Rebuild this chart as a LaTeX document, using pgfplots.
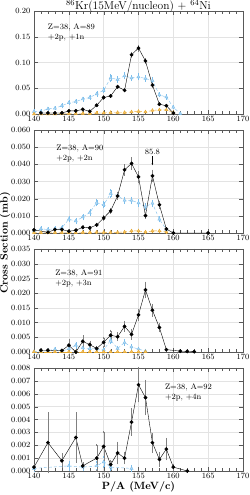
\documentclass[border=0pt]{standalone}
\usepackage{pgfplots}
\pgfplotsset{compat=1.18}
\usetikzlibrary{arrows.meta}
\definecolor{blueC}{RGB}{125,190,235}
\definecolor{orangeC}{RGB}{232,168,45}
\tikzset{lab/.style={font=\fontsize{8}{9.5}\selectfont, align=left, anchor=north west}}
\pgfplotsset{
  panel/.style={
    width=209pt, height=103pt, scale only axis,
    xmin=140, xmax=170, xtick={140,145,...,170}, minor x tick num=4,
    grid=major, grid style={gray!22, thin},
    axis line style={gray!70!black},
    tick style={gray!70!black},
    tick label style={font=\fontsize{8}{9}\selectfont},
    scaled y ticks=false,
    xticklabel style={yshift=1pt},
    yticklabel style={/pgf/number format/.cd, fixed, fixed zerofill, precision=3},
    clip=false,
  },
  blk/.style={black, thin, mark=*, mark size=1.7pt,
    error bars/.cd, y dir=both, y explicit, error bar style={gray, very thin}, error mark options={gray, mark size=1pt}},
  blu/.style={blueC, thin, densely dashed, mark=triangle*, mark size=1.8pt, mark options={solid, fill=blueC!60},
    error bars/.cd, y dir=both, y explicit, error bar style={blueC, very thin, solid}, error mark options={blueC, mark size=1pt}},
  org/.style={orangeC, thin, densely dashed, mark=triangle*, mark size=1.8pt, mark options={solid, fill=orangeC!70},
    error bars/.cd, y dir=both, y explicit, error bar style={orangeC, very thin, solid}, error mark options={orangeC, mark size=1pt}},
}
\begin{document}
\begin{tikzpicture}
% Panel 1
\begin{axis}[panel, name=a1, at={(0,0)}, anchor=north west,
  ymin=0, ymax=0.20, ytick={0,0.05,...,0.20},
  yticklabel style={/pgf/number format/.cd, fixed, fixed zerofill, precision=2}]
\addplot[blu] coordinates {
(140,0.005) +- (0,0.002) (141,0.005) +- (0,0.002) (142,0.010) +- (0,0.002) (143,0.011) +- (0,0.002)
(144,0.016) +- (0,0.003) (145,0.022) +- (0,0.003) (146,0.024) +- (0,0.003) (147,0.029) +- (0,0.003)
(148,0.032) +- (0,0.003) (149,0.039) +- (0,0.004) (150,0.046) +- (0,0.004) (151,0.070) +- (0,0.005)
(152,0.067) +- (0,0.004) (153,0.074) +- (0,0.005) (154,0.070) +- (0,0.004) (155,0.072) +- (0,0.005)
(156,0.069) +- (0,0.004) (157,0.065) +- (0,0.004) (158,0.037) +- (0,0.003) (159,0.033) +- (0,0.003)
(160,0.013) +- (0,0.002) (161,0.001) +- (0,0.001)};
\addplot[org] coordinates {
(140,0.000) +- (0,0.0005) (141,0.000) +- (0,0.0005) (142,0.000) +- (0,0.0005) (143,0.000) +- (0,0.0005)
(144,0.001) +- (0,0.0005) (145,0.001) +- (0,0.0005) (146,0.001) +- (0,0.0005) (147,0.001) +- (0,0.0005)
(148,0.001) +- (0,0.0005) (149,0.002) +- (0,0.001) (150,0.002) +- (0,0.001) (151,0.003) +- (0,0.001)
(152,0.003) +- (0,0.001) (153,0.003) +- (0,0.001) (154,0.004) +- (0,0.001) (155,0.005) +- (0,0.001)
(156,0.004) +- (0,0.001) (157,0.007) +- (0,0.001) (158,0.008) +- (0,0.001) (159,0.008) +- (0,0.001)
(160,0.003) +- (0,0.001)};
\addplot[blk] coordinates {
(141,0.002) +- (0,0.001) (142,0.002) +- (0,0.001) (143,0.002) +- (0,0.001) (144,0.002) +- (0,0.001)
(145,0.006) +- (0,0.001) (146,0.006) +- (0,0.001) (147,0.009) +- (0,0.001) (148,0.005) +- (0,0.001)
(149,0.017) +- (0,0.001) (150,0.032) +- (0,0.002) (151,0.035) +- (0,0.002) (152,0.053) +- (0,0.002)
(153,0.046) +- (0,0.002) (154,0.115) +- (0,0.004) (155,0.128) +- (0,0.005) (156,0.103) +- (0,0.004)
(157,0.056) +- (0,0.003) (158,0.019) +- (0,0.002) (159,0.016) +- (0,0.001) (160,0.002) +- (0,0.001)};
\node[lab] at (rel axis cs:0.05,0.91) {Z=38, A=89\\+2p, +1n};
\node[anchor=base, inner sep=0pt, font=\fontsize{11.5}{12}\selectfont, yshift=1.5pt] at (rel axis cs:0.5,1) {$^{86}$Kr(15MeV/nucleon) + $^{64}$Ni};
\end{axis}
% Panel 2
\begin{axis}[panel, name=a2, at={(a1.south west)}, yshift=-16pt, anchor=north west,
  ymin=0, ymax=0.060, ytick={0,0.01,...,0.06}]
\addplot[blu] coordinates {
(140,0.0014) +- (0,0.0008) (141,0.0025) +- (0,0.0008) (142,0.0020) +- (0,0.0008) (143,0.0025) +- (0,0.0008)
(144,0.0030) +- (0,0.0008) (145,0.0080) +- (0,0.0012) (146,0.0070) +- (0,0.0012) (147,0.0093) +- (0,0.0013)
(148,0.0119) +- (0,0.0014) (149,0.0177) +- (0,0.0016) (150,0.0164) +- (0,0.0015) (151,0.0230) +- (0,0.0018)
(152,0.0218) +- (0,0.0017) (153,0.0190) +- (0,0.0016) (154,0.0190) +- (0,0.0016) (155,0.0175) +- (0,0.0016)
(156,0.0154) +- (0,0.0015) (157,0.0173) +- (0,0.0016) (158,0.0080) +- (0,0.0012) (159,0.0020) +- (0,0.0008)};
\addplot[org] coordinates {
(140,0.0003) +- (0,0.0003) (141,0.0003) +- (0,0.0003) (142,0.0003) +- (0,0.0003) (143,0.0003) +- (0,0.0003)
(144,0.0003) +- (0,0.0003) (145,0.0003) +- (0,0.0003) (146,0.0003) +- (0,0.0003) (147,0.0003) +- (0,0.0003)
(148,0.0003) +- (0,0.0003) (149,0.0005) +- (0,0.0003) (150,0.0004) +- (0,0.0003) (151,0.0004) +- (0,0.0003)
(152,0.0004) +- (0,0.0003) (153,0.0006) +- (0,0.0004) (154,0.0012) +- (0,0.0005) (155,0.0012) +- (0,0.0005)
(156,0.0006) +- (0,0.0004) (157,0.0012) +- (0,0.0005) (158,0.0012) +- (0,0.0005) (159,0.0006) +- (0,0.0004)};
\addplot[blk] coordinates {
(140,0.0018) +- (0,0.0005) (142,0.0004) +- (0,0.0003) (143,0.0020) +- (0,0.0005) (144,0.0020) +- (0,0.0005)
(145,0.0010) +- (0,0.0004) (146,0.0016) +- (0,0.0005) (147,0.0033) +- (0,0.0006) (148,0.0030) +- (0,0.0006)
(149,0.0047) +- (0,0.0007) (150,0.0088) +- (0,0.0010) (151,0.0129) +- (0,0.0012) (152,0.0216) +- (0,0.0018)
(153,0.0368) +- (0,0.0028) (154,0.0405) +- (0,0.0030) (155,0.0327) +- (0,0.0027) (156,0.0101) +- (0,0.0012)
(157,0.0333) +- (0,0.0030) (158,0.0164) +- (0,0.0018) (159,0.0023) +- (0,0.0006) (160,0.0000) +- (0,0.0002)
(165,0.0000) +- (0,0.0002)};
\node[lab] at (rel axis cs:0.09,0.89) {Z=38, A=90\\+2p, +2n};
\node[font=\fontsize{8}{9}\selectfont] at (axis cs:157,0.0475) {85.8};
\draw[-{Stealth[length=2pt,width=1.5pt]}, thin] (axis cs:157,0.0448) -- (axis cs:157,0.0395);
\end{axis}
% Panel 3
\begin{axis}[panel, name=a3, at={(a2.south west)}, yshift=-16pt, anchor=north west,
  ymin=0, ymax=0.035, ytick={0,0.005,...,0.035}]
\addplot[blu] coordinates {
(140,0.0001) +- (0,0.0003) (141,0.0002) +- (0,0.0003) (142,0.0005) +- (0,0.0004) (143,0.0009) +- (0,0.0005)
(144,0.0003) +- (0,0.0003) (145,0.0011) +- (0,0.0006) (146,0.0023) +- (0,0.0008) (147,0.0014) +- (0,0.0006)
(148,0.0011) +- (0,0.0006) (149,0.0011) +- (0,0.0006) (150,0.0007) +- (0,0.0005) (151,0.0040) +- (0,0.0010)
(152,0.0012) +- (0,0.0006) (153,0.0032) +- (0,0.0009) (154,0.0017) +- (0,0.0007) (155,0.0010) +- (0,0.0005)
(156,0.0003) +- (0,0.0003)};
\addplot[org] coordinates {
(140,0.0001) +- (0,0.0001) (141,0.0001) +- (0,0.0001) (142,0.0001) +- (0,0.0001) (143,0.0001) +- (0,0.0001)
(144,0.0001) +- (0,0.0001) (145,0.0001) +- (0,0.0001) (146,0.0001) +- (0,0.0001) (147,0.0001) +- (0,0.0001)
(148,0.0001) +- (0,0.0001) (149,0.0001) +- (0,0.0001) (150,0.0001) +- (0,0.0001) (151,0.0001) +- (0,0.0001)
(152,0.0001) +- (0,0.0001) (153,0.0001) +- (0,0.0001) (154,0.0001) +- (0,0.0001) (155,0.0001) +- (0,0.0001)
(156,0.0001) +- (0,0.0001)};
\addplot[blk] coordinates {
(141,0.0006) +- (0,0.0003) (142,0.0006) +- (0,0.0003) (144,0.0005) +- (0,0.0003) (145,0.0023) +- (0,0.0018)
(146,0.0000) +- (0,0.0002) (147,0.0036) +- (0,0.0018) (148,0.0025) +- (0,0.0010) (149,0.0012) +- (0,0.0005)
(150,0.0033) +- (0,0.0015) (151,0.0057) +- (0,0.0016) (152,0.0052) +- (0,0.0012) (153,0.0087) +- (0,0.0015)
(154,0.0060) +- (0,0.0015) (155,0.0126) +- (0,0.0018) (156,0.0211) +- (0,0.0025) (157,0.0142) +- (0,0.0018)
(158,0.0083) +- (0,0.0012) (159,0.0008) +- (0,0.0003) (161,0.0003) +- (0,0.0002) (162,0.0002) +- (0,0.0001)
(163,0.0001) +- (0,0.0001)};
\node[lab] at (rel axis cs:0.085,0.83) {Z=38, A=91\\+2p, +3n};
\end{axis}
% Panel 4
\begin{axis}[panel, name=a4, at={(a3.south west)}, yshift=-16pt, anchor=north west,
  ymin=0, ymax=0.008, ytick={0,0.001,...,0.008},
  xlabel={\textbf{P/A (MeV/c)}},
  xlabel style={font=\fontsize{10.5}{12}\selectfont, yshift=4pt}]
\addplot[blu] coordinates {
(140,0.0002) +- (0,0.0002) (145,0.0004) +- (0,0.0003) (147,0.0003) +- (0,0.0002) (149,0.0004) +- (0,0.0003)
(150,0.0007) +- (0,0.0004) (151,0.0003) +- (0,0.0002) (154,0.0002) +- (0,0.0002)};
\addplot[blk] coordinates {
(140,0.0003) +- (0,0.0002) (142,0.0022) +- (0,0.0023) (144,0.0008) +- (0,0.0005) (146,0.0026) +- (0,0.0019)
(147,0.0004) +- (0,0.0002) (149,0.0010) +- (0,0.0010) (150,0.0019) +- (0,0.0011) (151,0.0005) +- (0,0.0003)
(152,0.0014) +- (0,0.0008) (153,0.0010) +- (0,0.0004) (154,0.0038) +- (0,0.0010) (155,0.0067) +- (0,0.0013)
(156,0.0057) +- (0,0.0013) (157,0.0022) +- (0,0.0007) (158,0.0009) +- (0,0.0005) (159,0.0017) +- (0,0.0008)
(160,0.0003) +- (0,0.0002) (162,0.0000) +- (0,0.0001)};
\node[lab] at (rel axis cs:0.61,0.88) {Z=38, A=92\\+2p, +4n};
\end{axis}
\node[rotate=90, font=\bfseries\fontsize{10.5}{12}\selectfont] at (-29pt,-232pt) {Cross Section (mb)};
\pgfresetboundingbox
\path[use as bounding box] (-34pt,11pt) rectangle (215pt,-484pt);
\end{tikzpicture}
\end{document}
